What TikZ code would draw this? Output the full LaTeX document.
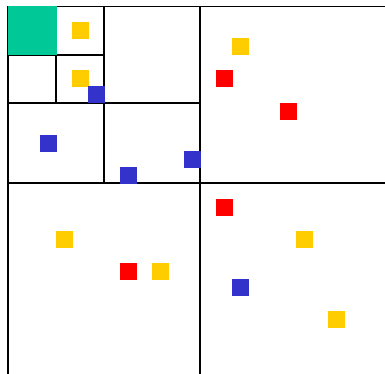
\documentclass[tikz,border=0pt]{standalone}
\definecolor{qyellow}{RGB}{255,204,0}
\definecolor{qred}{RGB}{255,0,0}
\definecolor{qblue}{RGB}{51,51,204}
\definecolor{qgreen}{RGB}{0,201,151}
\begin{document}
\begin{tikzpicture}[x=1pt,y=-1pt,
  sq/.style={draw=none,minimum size=16.6pt,inner sep=0pt,outer sep=0pt},
  ysq/.style={sq,fill=qyellow},
  rsq/.style={sq,fill=qred},
  bsq/.style={sq,fill=qblue},
  grid/.style={line width=1.5pt,black}]
\useasboundingbox (0,0) rectangle (385,374);
% partition lines
\draw[grid] (8,6.5) -- (385,6.5);
\draw[grid] (8,6.5) -- (8,374);
\draw[grid] (200,6.5) -- (200,374);
\draw[grid] (8,183) -- (385,183);
\draw[grid] (104,6.5) -- (104,183);
\draw[grid] (8,103) -- (200,103);
\draw[grid] (8,55) -- (104,55);
\draw[grid] (56,55) -- (56,103);
% green cell (drawn over its borders)
\fill[qgreen] (8.3,5.7) rectangle (56.6,55);
% points
\node[ysq] (y1) at (80.5,30.5) {};
\node[ysq] (y2) at (80.5,78.5) {};
\node[bsq] (b1) at (96.5,94.5) {};
\node[bsq] (b2) at (48.5,143.5) {};
\node[bsq] (b3) at (192.5,159.5) {};
\node[bsq] (b4) at (128.5,175.5) {};
\node[ysq] (y3) at (240.5,46.5) {};
\node[rsq] (r1) at (224.5,78.5) {};
\node[rsq] (r2) at (288.5,111.5) {};
\node[rsq] (r3) at (224.5,207.5) {};
\node[ysq] (y4) at (64.5,239.5) {};
\node[rsq] (r4) at (128.5,271.5) {};
\node[ysq] (y5) at (160.5,271.5) {};
\node[ysq] (y6) at (304.5,239.5) {};
\node[bsq] (b5) at (240.5,287.5) {};
\node[ysq] (y7) at (336.5,319.5) {};
\end{tikzpicture}
\end{document}
